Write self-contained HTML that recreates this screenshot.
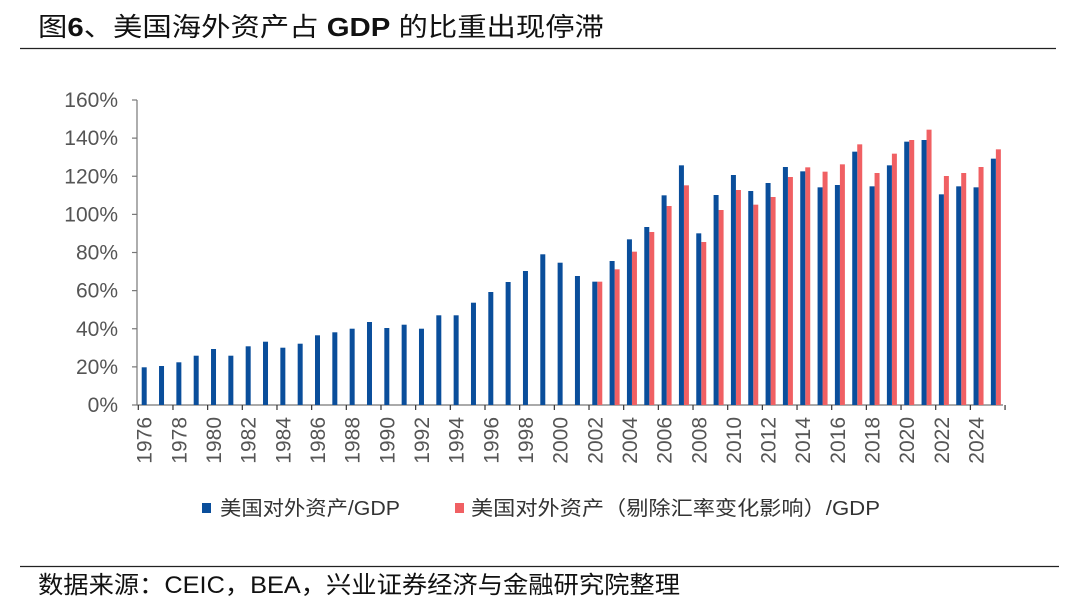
<!DOCTYPE html>
<html><head><meta charset="utf-8"><style>
html,body{margin:0;padding:0;background:#fff;}
svg{display:block;}
</style></head><body>
<svg width="1080" height="615" xmlns="http://www.w3.org/2000/svg" font-family="'Liberation Sans','Noto Sans CJK SC',sans-serif">
<text x="38" y="36" font-size="26" fill="#111" textLength="566" lengthAdjust="spacingAndGlyphs">图<tspan font-weight="bold">6</tspan>、美国海外资产占 <tspan font-weight="bold">GDP</tspan> 的比重出现停滞</text>
<line x1="20" y1="48.5" x2="1056" y2="48.5" stroke="#222" stroke-width="1.3"/>
<g id="plot"></g>
<line x1="20" y1="566.5" x2="1059" y2="566.5" stroke="#222" stroke-width="1.3"/>
<text x="38" y="593" font-size="24" fill="#111" textLength="642" lengthAdjust="spacingAndGlyphs">数据来源：CEIC，BEA，兴业证券经济与金融研究院整理</text>
<rect x="202" y="503" width="9" height="10" fill="#0a4e9b"/>
<text x="220" y="515" font-size="20" fill="#333" textLength="180" lengthAdjust="spacingAndGlyphs">美国对外资产/GDP</text>
<rect x="455" y="503" width="9" height="10" fill="#f06063"/>
<text x="471" y="515" font-size="20" fill="#333" textLength="409" lengthAdjust="spacingAndGlyphs">美国对外资产（剔除汇率变化影响）/GDP</text>
</svg>
<script>
(function(){
var g=document.getElementById('plot'),h='';
h+='<line x1="137" y1="100" x2="137" y2="405" stroke="#777" stroke-width="1.2"/>';
for(var i=0;i<=8;i++){var y=405-i*38.125;
h+='<line x1="132" y1="'+y+'" x2="137" y2="'+y+'" stroke="#777" stroke-width="1.2"/>';
h+='<text x="118" y="'+(y+7)+'" font-size="21" fill="#555" text-anchor="end">'+(i*20)+'%</text>';}
h+='<line x1="137" y1="405" x2="1003" y2="405" stroke="#777" stroke-width="1.2"/>';
for(var k=0;k<=25;k++){var x=138.3+k*34.67;h+='<line x1="'+x+'" y1="405" x2="'+x+'" y2="410" stroke="#333" stroke-width="1.2"/>';}
var blue1=[367.3,366,362.3,355.7,349,355.7,346.3,341.7,347.7,343.7,335.3,332.3,328.7,322,328,324.7,328.7,315.3,315.3,302.7,292,282,271,254.3,262.7,276];
var bz=[485,423,358,321,226,136,340,225,165,213,189,141,154,202,195,95,199,136,65,60,223,199,202,116];
var rz=[485,448,395,336,258,196,366,270,210,254,231,171,142,155,133,73,159,101,60,29,168,159,141,88];
for(var j=0;j<50;j++){var x=141.7+j*17.33,bt;
 if(j<26){bt=blue1[j];}else{bt=120+bz[j-26]/3;
  var rt=120+rz[j-26]/3;h+='<rect x="'+(x+5)+'" y="'+rt+'" width="5" height="'+(405-rt)+'" fill="#f06063"/>';}
 h+='<rect x="'+x+'" y="'+bt+'" width="5" height="'+(405-bt)+'" fill="#0a4e9b"/>';
 if(j%2==0){var cx=x+10;h+='<text transform="translate('+cx+',417) rotate(-90)" font-size="21" fill="#555" text-anchor="end">'+(1976+j)+'</text>';}
}
g.innerHTML=h;
})();
</script>
</body></html>
